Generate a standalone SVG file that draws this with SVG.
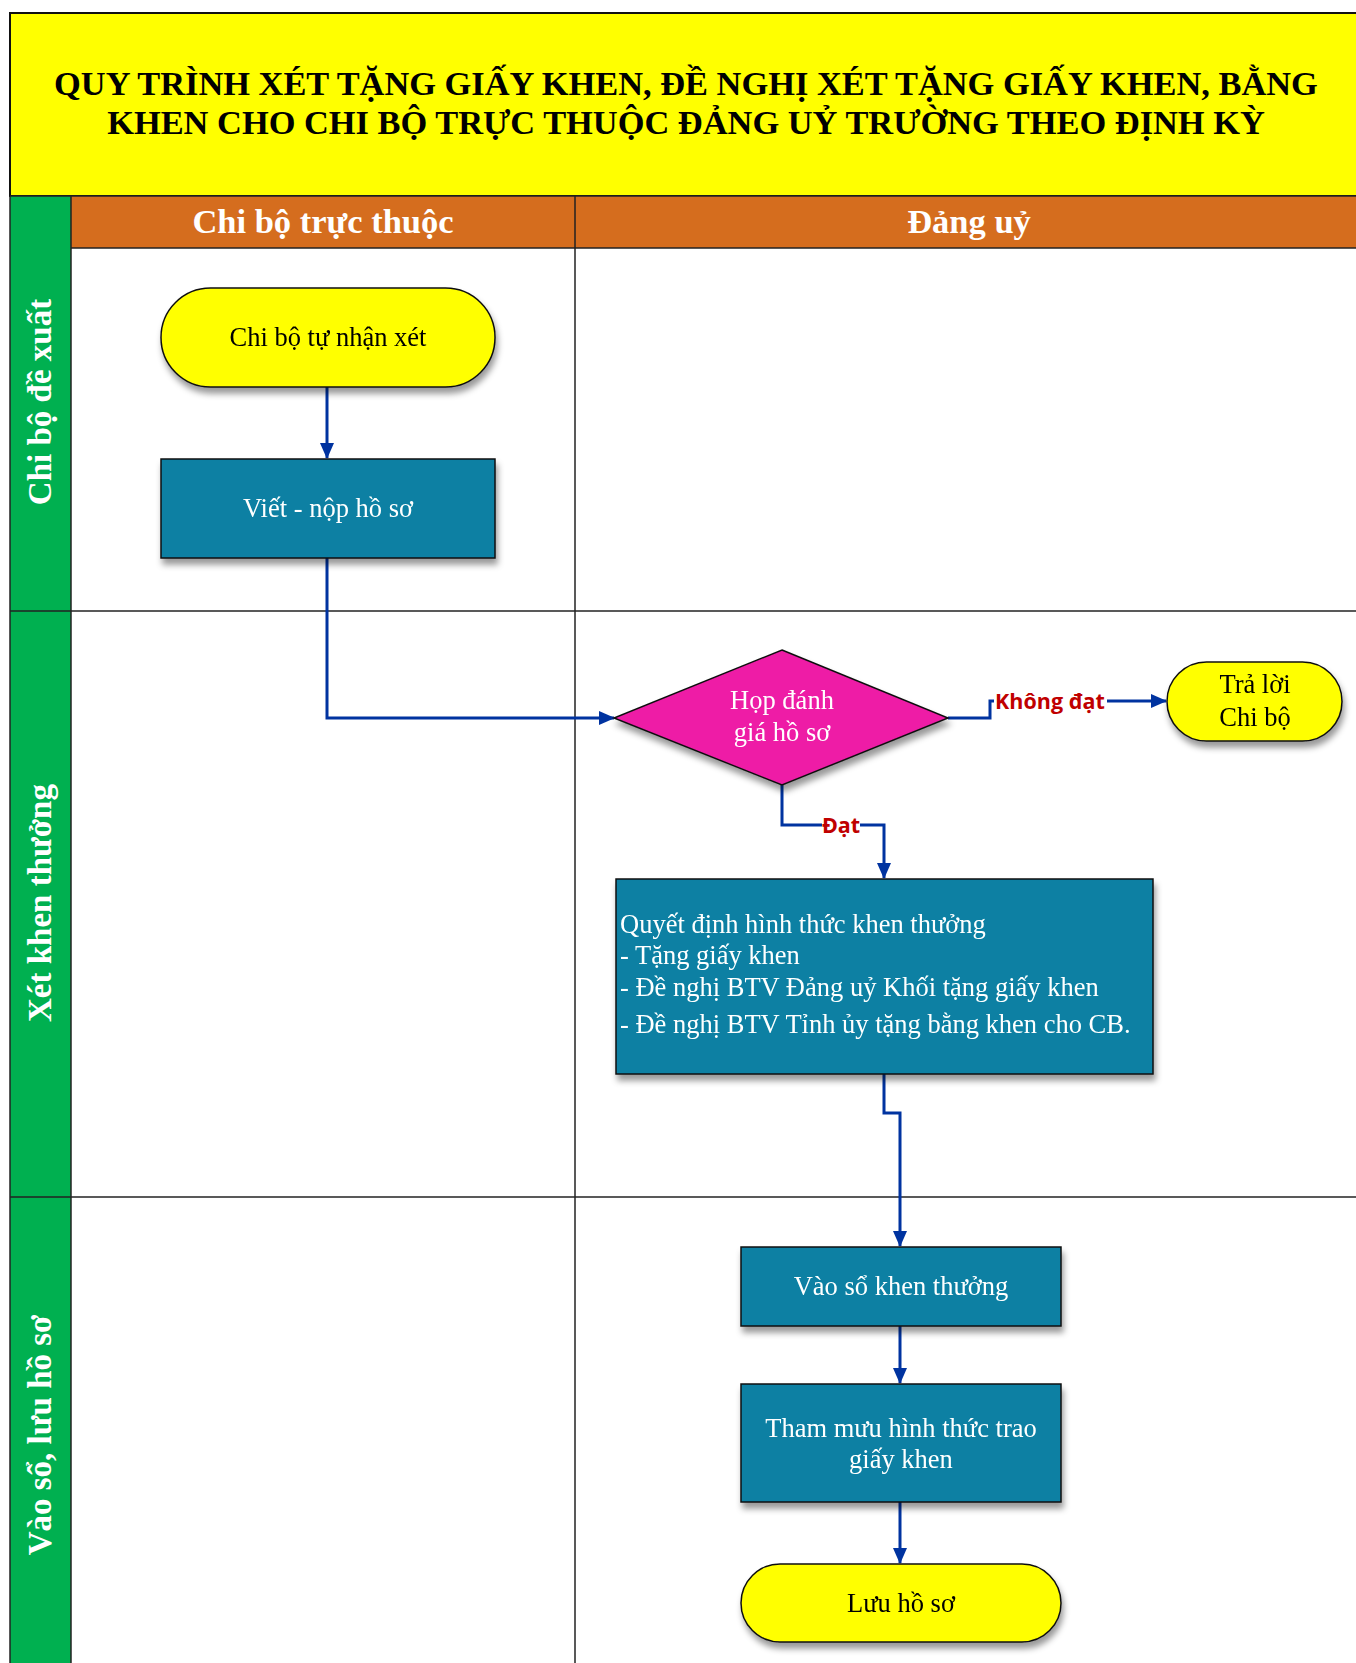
<svg xmlns="http://www.w3.org/2000/svg" width="1356" height="1663" viewBox="0 0 1356 1663">
<style>
.serif{font-family:"Liberation Serif","Times New Roman",serif}
.title{font-family:"Liberation Serif",serif;font-weight:bold;font-size:34.4px;fill:#000;text-anchor:middle}
.hdr{font-family:"Liberation Serif",serif;font-weight:bold;font-size:34.5px;fill:#fff;text-anchor:middle}
.lane{font-family:"Liberation Serif",serif;font-weight:bold;font-size:33px;fill:#fff;text-anchor:middle}
.txt{font-family:"Liberation Serif",serif;font-size:26.5px;text-anchor:middle}
.w{fill:#fff}
.b{fill:#000}
.proc{fill:#0780A3;stroke:#111;stroke-width:1.5}
.term{fill:#FFFF00;stroke:#111;stroke-width:1.5}
.dec{fill:#EE1BA6;stroke:#111;stroke-width:1.5}
.conn{fill:none;stroke:#0033A0;stroke-width:3}
.lbl{font-family:"Open Sans","Liberation Sans",sans-serif;font-weight:bold;font-size:21.5px;fill:#C00000;text-anchor:middle}
.grid{stroke:#222;stroke-width:1.5;fill:none}
</style>
<defs>
<marker id="arr" markerWidth="16" markerHeight="14" refX="15" refY="7" orient="auto" markerUnits="userSpaceOnUse" viewBox="0 0 16 14">
<path d="M0,0 L16,7 L0,14 z" fill="#0033A0"/>
</marker>
<filter id="sh" x="-10%" y="-10%" width="130%" height="140%">
<feDropShadow dx="2" dy="6" stdDeviation="3" flood-color="#000" flood-opacity="0.4"/>
</filter>
</defs>
<rect width="1356" height="1663" fill="#fff"/>
<g id="title">
<rect x="10" y="13" width="1350" height="183" fill="#FFFF00" stroke="#111" stroke-width="2"/>
<text class="title" x="686" y="95">QUY TRÌNH XÉT TẶNG GIẤY KHEN, ĐỀ NGHỊ XÉT TẶNG GIẤY KHEN, BẰNG</text>
<text class="title" x="686" y="134">KHEN CHO CHI BỘ TRỰC THUỘC ĐẢNG UỶ TRƯỜNG THEO ĐỊNH KỲ</text>
</g>
<g id="lanes">
<rect x="10" y="196" width="61" height="1467" fill="#00B050"/>
<rect x="71" y="196" width="1285" height="52" fill="#D56D1E"/>
<line class="grid" x1="10" y1="196" x2="1356" y2="196"/>
<line class="grid" x1="71" y1="248" x2="1356" y2="248"/>
<line class="grid" x1="10" y1="196" x2="10" y2="1663"/>
<line class="grid" x1="71" y1="196" x2="71" y2="1663"/>
<line class="grid" x1="575" y1="196" x2="575" y2="1663"/>
<line class="grid" x1="10" y1="611" x2="1356" y2="611"/>
<line class="grid" x1="10" y1="1197" x2="1356" y2="1197"/>
<text class="hdr" x="323" y="233">Chi bộ trực thuộc</text>
<text class="hdr" x="969" y="233">Đảng uỷ</text>
<text class="lane" transform="translate(51,402) rotate(-90)">Chi bộ đề xuất</text>
<text class="lane" transform="translate(51,903) rotate(-90)">Xét khen thưởng</text>
<text class="lane" transform="translate(51,1435) rotate(-90)">Vào sổ, lưu hồ sơ</text>
</g>
<g id="connectors">
<path class="conn" d="M327,387 L327,458" marker-end="url(#arr)"/>
<path class="conn" d="M327,558 L327,718 L614,718" marker-end="url(#arr)"/>
<path class="conn" d="M948,718 L990,718 L990,701 L1166,701" marker-end="url(#arr)"/>
<path class="conn" d="M782,785 L782,825 L884,825 L884,878" marker-end="url(#arr)"/>
<path class="conn" d="M884,1074 L884,1113 L900,1113 L900,1246" marker-end="url(#arr)"/>
<path class="conn" d="M900,1326 L900,1383" marker-end="url(#arr)"/>
<path class="conn" d="M900,1502 L900,1563" marker-end="url(#arr)"/>
<rect x="994" y="688" width="113" height="26" fill="#fff"/>
<text class="lbl" x="1050" y="709">Không đạt</text>
<rect x="822" y="812" width="38" height="26" fill="#fff"/>
<text class="lbl" x="841" y="833">Đạt</text>
</g>
<g id="n1" filter="url(#sh)">
<rect class="term" x="161" y="288" width="334" height="99" rx="49.5"/>
<text class="txt b" x="328" y="346">Chi bộ tự nhận xét</text>
</g>
<g id="n2" filter="url(#sh)">
<rect class="proc" x="161" y="459" width="334" height="99"/>
<text class="txt w" x="328" y="517">Viết - nộp hồ sơ</text>
</g>
<g id="n3" filter="url(#sh)">
<polygon class="dec" points="782,650 948,718 782,785 614,718"/>
<text class="txt w" x="782" y="709">Họp đánh</text>
<text class="txt w" x="782" y="741">giá hồ sơ</text>
</g>
<g id="n4" filter="url(#sh)">
<rect class="term" x="1167" y="662" width="175" height="79" rx="39.5"/>
<text class="txt b" x="1255" y="693">Trả lời</text>
<text class="txt b" x="1255" y="726">Chi bộ</text>
</g>
<g id="n5" filter="url(#sh)">
<rect class="proc" x="616" y="879" width="537" height="195"/>
<text class="serif w" font-size="26.5" x="620" y="933">Quyết định hình thức khen thưởng</text>
<text class="serif w" font-size="26.5" x="620" y="964">- Tặng giấy khen</text>
<text class="serif w" font-size="26.5" x="620" y="996">- Đề nghị BTV Đảng uỷ Khối tặng giấy khen</text>
<text class="serif w" font-size="26.5" x="620" y="1033">- Đề nghị BTV Tỉnh ủy tặng bằng khen cho CB.</text>
</g>
<g id="n6" filter="url(#sh)">
<rect class="proc" x="741" y="1247" width="320" height="79"/>
<text class="txt w" x="901" y="1295">Vào sổ khen thưởng</text>
</g>
<g id="n7" filter="url(#sh)">
<rect class="proc" x="741" y="1384" width="320" height="118"/>
<text class="txt w" x="901" y="1437">Tham mưu hình thức trao</text>
<text class="txt w" x="901" y="1468">giấy khen</text>
</g>
<g id="n8" filter="url(#sh)">
<rect class="term" x="741" y="1564" width="320" height="78" rx="39"/>
<text class="txt b" x="901" y="1612">Lưu hồ sơ</text>
</g>
</svg>
